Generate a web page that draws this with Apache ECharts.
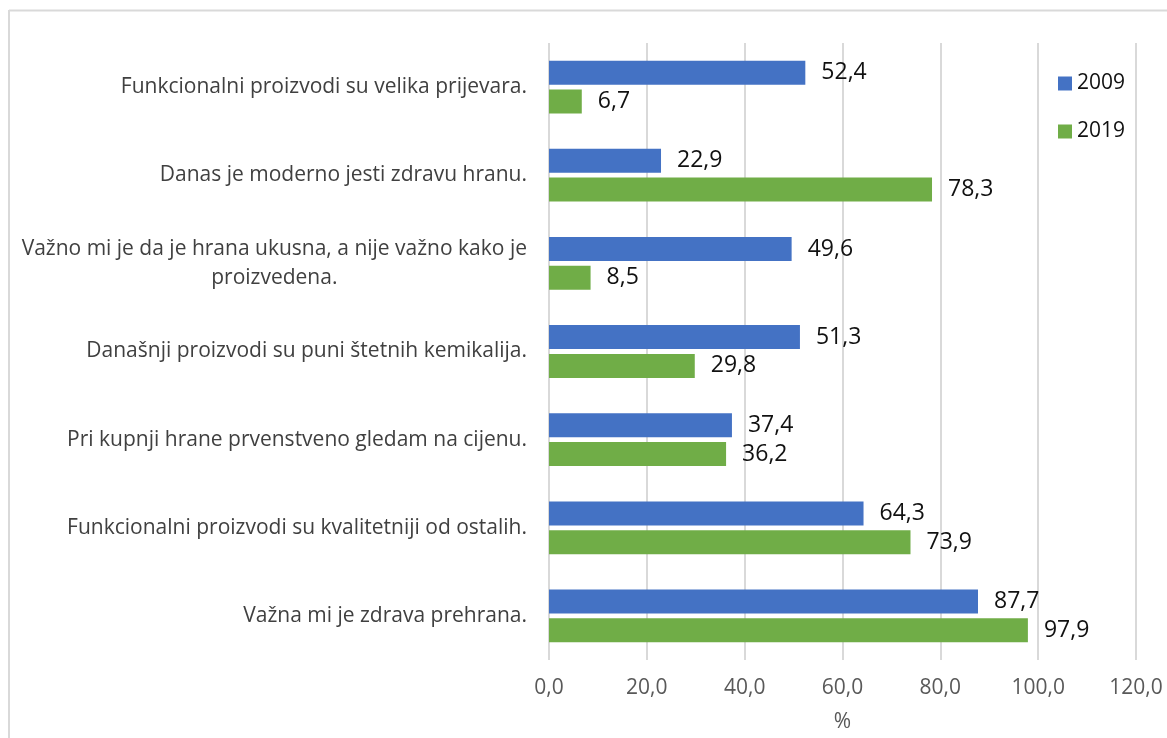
<!DOCTYPE html>
<html>
<head>
<meta charset="utf-8">
<script src="https://cdn.jsdelivr.net/npm/echarts@6/dist/echarts.min.js"></script>
<style>
  html, body { margin: 0; padding: 0; background: #fff; }
  #chart { width: 1167px; height: 738px; }
</style>
</head>
<body>
<div id="chart"></div>
<script>
const categories = [
  "Funkcionalni proizvodi su velika prijevara.",
  "Danas je moderno jesti zdravu hranu.",
  "Važno mi je da je hrana ukusna, a nije važno kako je\nproizvedena.",
  "Današnji proizvodi su puni štetnih kemikalija.",
  "Pri kupnji hrane prvenstveno gledam na cijenu.",
  "Funkcionalni proizvodi su kvalitetniji od ostalih.",
  "Važna mi je zdrava prehrana."
];
const values2009 = [52.4, 22.9, 49.6, 51.3, 37.4, 64.3, 87.7];
const values2019 = [6.7, 78.3, 8.5, 29.8, 36.2, 73.9, 97.9];
const seriesNames = ["2009", "2019"];
const axisTicks = { min: 0, max: 120, interval: 20 };

const font = "'Open Sans', 'Noto Sans', sans-serif";
const fmt = v => v.toFixed(1).replace('.', ',');

const chart = echarts.init(document.getElementById('chart'));

function barSeries(name, data, color) {
  return {
    name: name,
    type: 'bar',
    data: data,
    barWidth: 24,
    barGap: '20%',
    itemStyle: { color: color },
    label: {
      show: true,
      position: 'right',
      distance: 16,
      color: '#111',
      fontFamily: font,
      fontSize: 23,
      formatter: p => fmt(p.value)
    }
  };
}

const option = {
  animation: false,
  graphic: [
    { type: 'line', shape: { x1: 9, y1: 10.5, x2: 1167, y2: 10.5 }, style: { stroke: '#D9D9D9', lineWidth: 2 } },
    { type: 'line', shape: { x1: 9, y1: 10, x2: 9, y2: 738 }, style: { stroke: '#D9D9D9', lineWidth: 2 } }
  ],
  legend: {
    orient: 'vertical',
    left: 1053,
    top: 68,
    itemWidth: 14,
    itemHeight: 14,
    itemGap: 27,
    icon: 'rect',
    selectedMode: false,
    textStyle: { fontFamily: font, fontSize: 21, color: '#111', lineHeight: 21, padding: [0, 0, 0, 0] },
    data: seriesNames
  },
  grid: { left: 549, right: 31, top: 43, bottom: 77, containLabel: false },
  xAxis: {
    type: 'value',
    min: axisTicks.min,
    max: axisTicks.max,
    interval: axisTicks.interval,
    name: '%',
    nameLocation: 'middle',
    nameGap: 52,
    nameTextStyle: { fontFamily: font, fontSize: 21, color: '#595959', verticalAlign: 'top' },
    axisLine: { show: false },
    axisTick: { show: false },
    axisLabel: {
      margin: 18,
      fontFamily: font,
      fontSize: 21,
      color: '#595959',
      formatter: v => fmt(v)
    },
    splitLine: { show: true, lineStyle: { color: '#D9D9D9', width: 2 } }
  },
  yAxis: {
    type: 'category',
    inverse: true,
    data: categories,
    axisLine: { show: false },
    axisTick: { show: false },
    axisLabel: {
      margin: 22,
      lineHeight: 29,
      formatter: v => v.split('\n').map(s => '{c|' + s + '}').join('\n'),
      rich: {
        c: { align: 'center', fontFamily: font, fontSize: 21, color: '#404040', lineHeight: 29 }
      }
    }
  },
  series: [
    barSeries(seriesNames[0], values2009, '#4472C4'),
    barSeries(seriesNames[1], values2019, '#70AD47')
  ]
};

chart.setOption(option);
</script>
</body>
</html>
